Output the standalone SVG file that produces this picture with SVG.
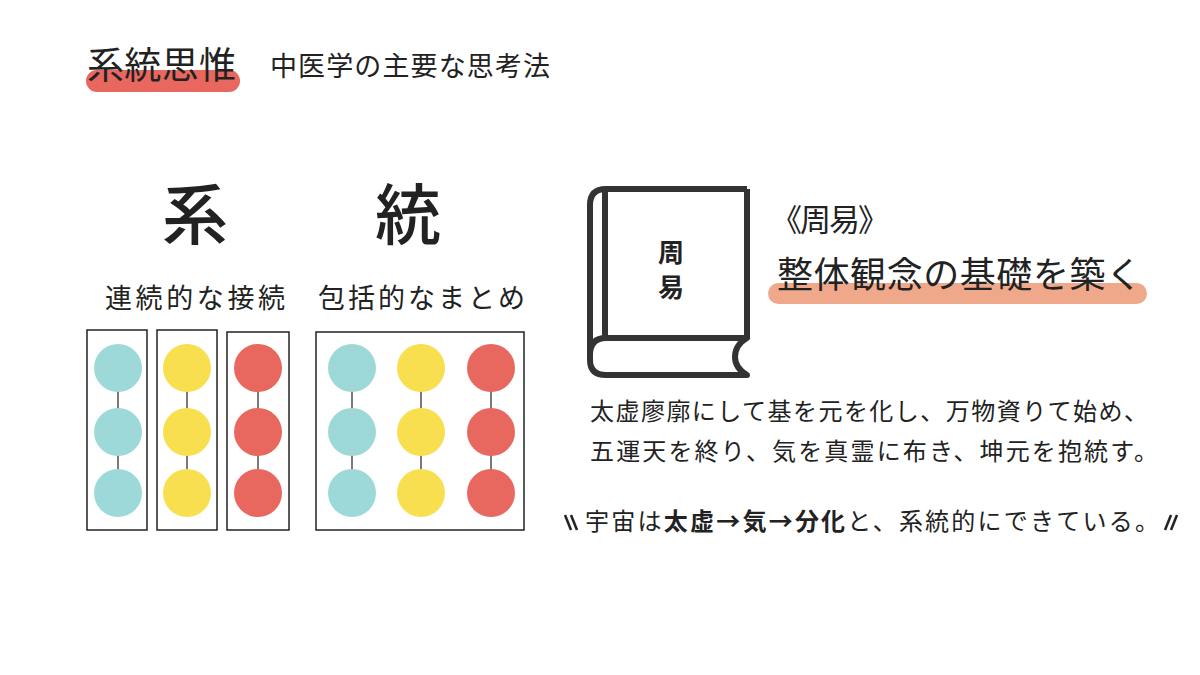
<svg xmlns="http://www.w3.org/2000/svg" width="1200" height="675" viewBox="0 0 1200 675">
<style>
text{font-family:"Noto Sans CJK JP","Noto Sans",sans-serif;fill:#222}
.box{fill:none;stroke:#222;stroke-width:1.5}
.ln{stroke:#222;stroke-width:1.2}
.t{fill:#9ed9d9}.y{fill:#f7df50}.r{fill:#e8675f}
.bk{fill:none;stroke:#333;stroke-width:6;stroke-linejoin:round}
</style>
<rect width="1200" height="675" fill="#fff"/>
<rect x="86" y="70" width="154" height="22" rx="11" fill="#e8675f"/>
<text x="87" y="79" font-size="37" fill="#111" textLength="149">系統思惟</text>
<text x="270" y="76" font-size="27" fill="#333" textLength="280">中医学の主要な思考法</text>
<text x="195" y="239" font-size="66" text-anchor="middle" font-weight="500">系</text>
<text x="408" y="239" font-size="66" text-anchor="middle" font-weight="500">統</text>
<text x="105" y="308" font-size="27" textLength="180">連続的な接続</text>
<text x="318" y="308" font-size="27" textLength="207">包括的なまとめ</text>
<g id="connectors">
<line class="ln" x1="118" y1="368" x2="118" y2="492"/>
<line class="ln" x1="187" y1="368" x2="187" y2="492"/>
<line class="ln" x1="258" y1="368" x2="258" y2="492"/>
<line class="ln" x1="352" y1="368" x2="352" y2="492"/>
<line class="ln" x1="421" y1="368" x2="421" y2="492"/>
<line class="ln" x1="491" y1="368" x2="491" y2="492"/>
</g>
<g id="box1"><rect class="box" x="87" y="330" width="60" height="200"/>
<circle class="t" cx="118" cy="368" r="24"/><circle class="t" cx="118" cy="432" r="24"/><circle class="t" cx="118" cy="493" r="24"/></g>
<g id="box2"><rect class="box" x="157" y="330" width="60" height="200"/>
<circle class="y" cx="187" cy="368" r="24"/><circle class="y" cx="187" cy="432" r="24"/><circle class="y" cx="187" cy="493" r="24"/></g>
<g id="box3"><rect class="box" x="227" y="332" width="62" height="198"/>
<circle class="r" cx="258" cy="368" r="24"/><circle class="r" cx="258" cy="432" r="24"/><circle class="r" cx="258" cy="493" r="24"/></g>
<g id="box4"><rect class="box" x="316" y="332" width="208" height="198"/>
<circle class="t" cx="352" cy="368" r="24"/><circle class="t" cx="352" cy="432" r="24"/><circle class="t" cx="352" cy="493" r="24"/>
<circle class="y" cx="421" cy="368" r="24"/><circle class="y" cx="421" cy="432" r="24"/><circle class="y" cx="421" cy="493" r="24"/>
<circle class="r" cx="491" cy="368" r="24"/><circle class="r" cx="491" cy="432" r="24"/><circle class="r" cx="491" cy="493" r="24"/></g>
<g id="book">
<path class="bk" d="M747 189 H606 Q590 189 590 205 V360 Q590 375 606 375 H747 Q735 368 735 357 Q735 345 747 338 H606 Q590 338 590 355"/>
<line class="bk" x1="605" y1="189" x2="605" y2="338"/>
<line class="bk" x1="747" y1="189" x2="747" y2="338"/>
<text x="671" y="262" font-size="26" text-anchor="middle" font-weight="bold">周</text>
<text x="671" y="297" font-size="26" text-anchor="middle" font-weight="bold">易</text>
</g>
<text x="771" y="231" font-size="31" textLength="118">《周易》</text>
<rect x="768" y="283" width="379" height="21" rx="10.5" fill="#f0a88a"/>
<text x="777" y="288" font-size="36" textLength="365">整体観念の基礎を築く</text>
<text x="590" y="420" font-size="24" textLength="558">太虚廖廓にして基を元を化し、万物資りて始め、</text>
<text x="590" y="460" font-size="24" textLength="568">五運天を終り、気を真霊に布き、坤元を抱統す。</text>
<g stroke="#222" stroke-width="2.5"><line x1="565" y1="515" x2="571" y2="530"/><line x1="571" y1="515" x2="577" y2="530"/><line x1="1171" y1="515" x2="1165" y2="530"/><line x1="1177" y1="515" x2="1171" y2="530"/></g>
<text x="585" y="530" font-size="24" textLength="574">宇宙は<tspan font-weight="bold">太虚→気→分化</tspan>と、系統的にできている。</text>
</svg>
